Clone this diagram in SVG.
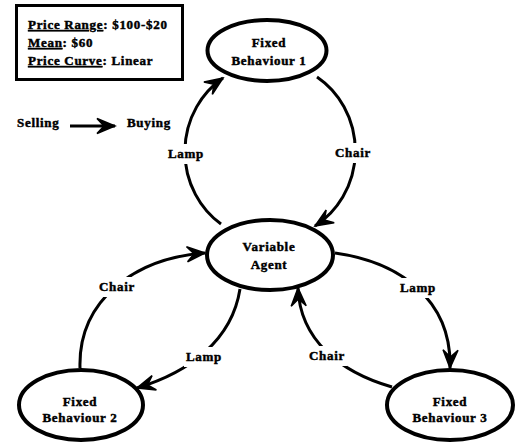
<svg xmlns="http://www.w3.org/2000/svg" width="515" height="443" viewBox="0 0 515 443">
<style>
text{font-family:"Liberation Serif","Times New Roman",serif;font-weight:bold;font-size:13px;letter-spacing:0.7px;fill:#000;stroke:#000;stroke-width:0.45px}
.c{text-anchor:middle}
.node{fill:#fff;stroke:#000;stroke-width:4}
.edge{fill:none;stroke:#000;stroke-width:3}
.bg{fill:#fff}
.u{text-decoration:underline}
</style>
<defs>
<marker id="ah" markerUnits="userSpaceOnUse" viewBox="-20 -10 22 20" markerWidth="22" markerHeight="20" refX="0" refY="0" orient="auto">
<path d="M0,0 L-18,-7.5 L-11,0 L-18,7.5 Z" fill="#000" stroke="#000" stroke-width="1.5" stroke-linejoin="miter"/>
</marker>
</defs>
<g id="legend">
<rect x="16.5" y="5.5" width="166" height="74" fill="#fff" stroke="#000" stroke-width="3"/>
<text x="28" y="29"><tspan class="u">Price Range</tspan>: $100-$20</text>
<text x="28" y="47"><tspan class="u">Mean</tspan>: $60</text>
<text x="28" y="65"><tspan class="u">Price Curve</tspan>: Linear</text>
</g>
<g id="key">
<text x="17" y="127">Selling</text>
<line x1="70" y1="126" x2="115" y2="126" class="edge" marker-end="url(#ah)"/>
<text x="127" y="127">Buying</text>
</g>
<g id="connectors">
<path class="edge" d="M221,224 A84,88 0 0 1 223,78" marker-end="url(#ah)"/>
<path class="edge" d="M317,77 A84,88 0 0 1 315,226" marker-end="url(#ah)"/>
<path class="edge" d="M80,368 C78,300 135,258 205,253" marker-end="url(#ah)"/>
<path class="edge" d="M240,289 C232,340 190,372 137,388" marker-end="url(#ah)"/>
<path class="edge" d="M335,253 C400,262 452,300 450,368" marker-end="url(#ah)"/>
<path class="edge" d="M392,387 C340,372 300,340 298,288" marker-end="url(#ah)"/>
<rect class="bg" x="166" y="144" width="40" height="20"/>
<text class="c" x="186" y="158">Lamp</text>
<rect class="bg" x="333" y="143" width="40" height="20"/>
<text class="c" x="353" y="157">Chair</text>
<rect class="bg" x="97" y="277" width="40" height="20"/>
<text class="c" x="117" y="291">Chair</text>
<rect class="bg" x="184" y="347" width="40" height="20"/>
<text class="c" x="204" y="361">Lamp</text>
<rect class="bg" x="398" y="278" width="40" height="20"/>
<text class="c" x="418" y="292">Lamp</text>
<rect class="bg" x="307" y="346" width="40" height="20"/>
<text class="c" x="327" y="360">Chair</text>
</g>
<g id="fixed1">
<ellipse class="node" cx="267" cy="50.5" rx="59.5" ry="30.5"/>
<text class="c" x="269" y="47">Fixed</text>
<text class="c" x="269" y="65">Behaviour 1</text>
</g>
<g id="variable">
<ellipse class="node" cx="270" cy="255" rx="63" ry="35"/>
<text class="c" x="269" y="251">Variable</text>
<text class="c" x="269" y="269">Agent</text>
</g>
<g id="fixed2">
<ellipse class="node" cx="81" cy="405" rx="62" ry="35"/>
<text class="c" x="80" y="406">Fixed</text>
<text class="c" x="80" y="422">Behaviour 2</text>
</g>
<g id="fixed3">
<ellipse class="node" cx="450" cy="405" rx="63" ry="35"/>
<text class="c" x="450" y="406">Fixed</text>
<text class="c" x="450" y="422">Behaviour 3</text>
</g>
</svg>
